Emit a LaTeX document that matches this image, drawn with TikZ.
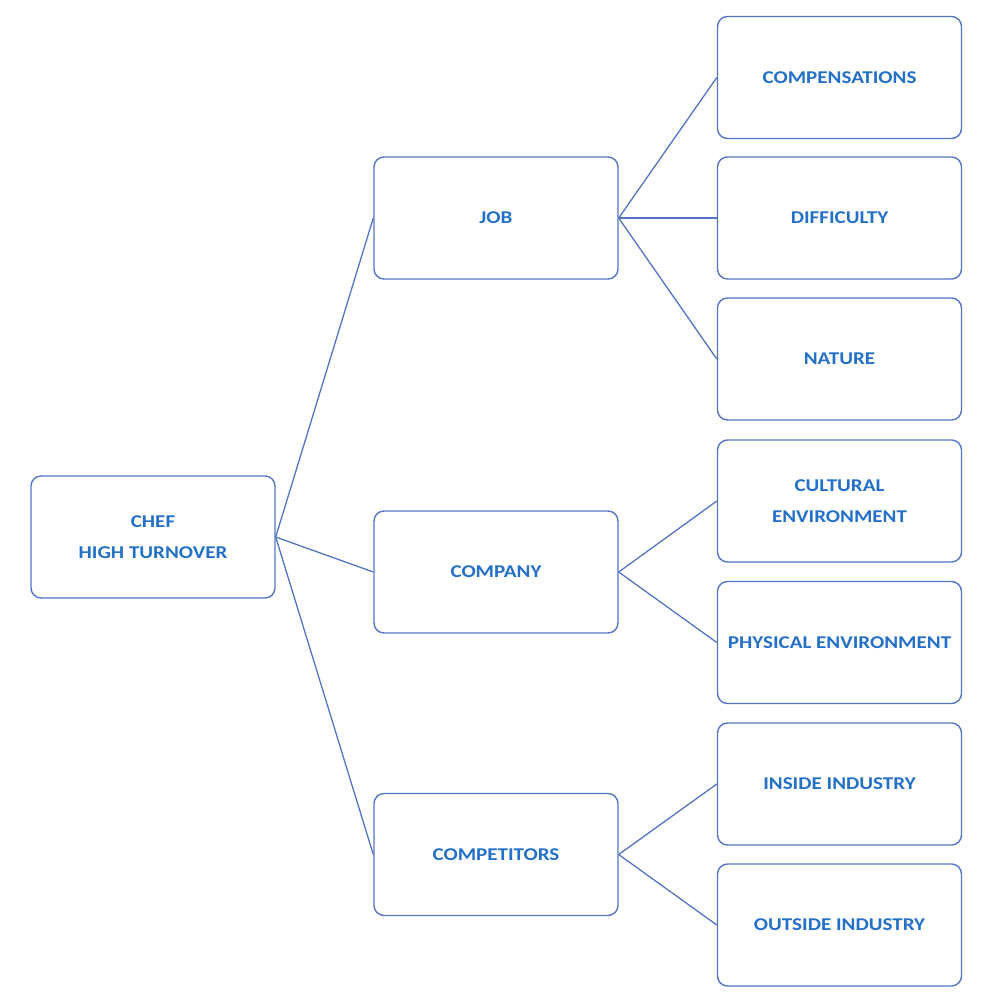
\documentclass[tikz,border=0pt]{standalone}
\usepackage{fontspec}
\setmainfont{Carlito}[FakeStretch=1.17]
\definecolor{boxline}{RGB}{84,116,196}
\definecolor{txt}{RGB}{36,112,200}
\begin{document}
\begin{tikzpicture}[x=1pt,y=-1pt,
  box/.style={draw=boxline,line width=1.4pt,rounded corners=10pt,minimum width=244pt,minimum height=122pt,
    align=center,text=txt,font=\fontsize{18}{31}\selectfont\bfseries,inner sep=0pt},
  link/.style={draw=boxline,line width=1.3pt}]
\useasboundingbox (0,0) rectangle (990,1000);
\node[box] (chef) at (153,537) {CHEF\\HIGH TURNOVER};
\node[box] (job) at (496,218) {JOB};
\node[box] (company) at (496,572) {COMPANY};
\node[box] (comp) at (496,854.5) {COMPETITORS};
\node[box] (compens) at (839.5,77.5) {COMPENSATIONS};
\node[box] (diff) at (839.5,218) {DIFFICULTY};
\node[box] (nature) at (839.5,359) {NATURE};
\node[box] (cult) at (839.5,501) {CULTURAL\\ENVIRONMENT};
\node[box] (phys) at (839.5,642.5) {PHYSICAL ENVIRONMENT};
\node[box] (inside) at (839.5,784) {INSIDE INDUSTRY};
\node[box] (outside) at (839.5,925) {OUTSIDE INDUSTRY};
\foreach \t in {job,company,comp} \draw[link] (chef.east) -- (\t.west);
\foreach \t in {compens,diff,nature} \draw[link] (job.east) -- (\t.west);
\foreach \t in {cult,phys} \draw[link] (company.east) -- (\t.west);
\foreach \t in {inside,outside} \draw[link] (comp.east) -- (\t.west);
\end{tikzpicture}
\end{document}
